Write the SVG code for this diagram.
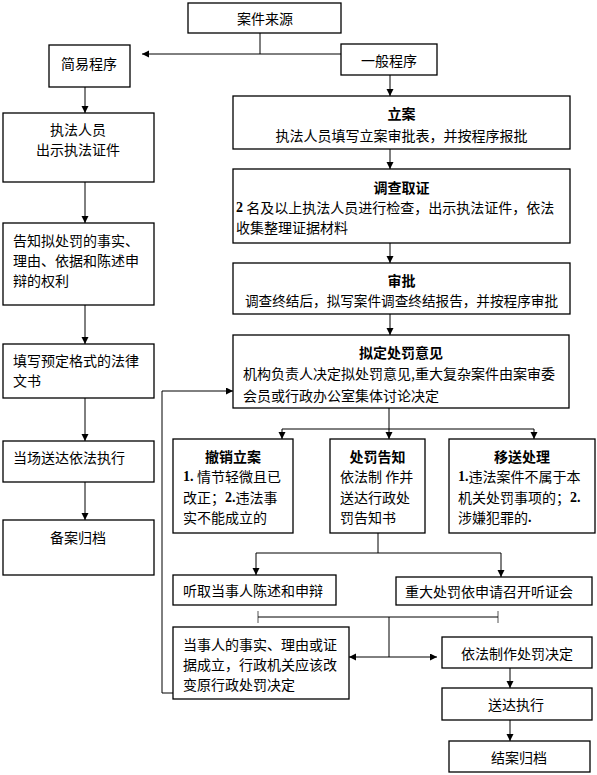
<svg xmlns="http://www.w3.org/2000/svg" width="597" height="775" viewBox="0 0 597 775">
<style>
rect{fill:#fff;stroke:#000;stroke-width:1.3}
.t{font-family:"Noto Sans CJK SC","Noto Sans",sans-serif;font-size:14px;fill:#000;dominant-baseline:central}
.c{text-anchor:middle}
.b{font-weight:bold}
.n{font-family:"Liberation Serif",serif;font-weight:bold}
#connectors path{fill:none;stroke:#000;stroke-width:1}
#connectors .tick{stroke:#555}
</style>
<defs>
<marker id="ah" markerUnits="userSpaceOnUse" markerWidth="8" markerHeight="8" refX="7" refY="3.5" orient="auto">
<path d="M0,0 L7,3.5 L0,7 z" fill="#000"/>
</marker>
</defs>
<rect x="0" y="0" width="597" height="775" style="fill:#fff;stroke:none"/>
<g id="connectors">
<path d="M260,33 V54"/>
<path d="M341,54 H142" marker-end="url(#ah)"/>
<path d="M390,75 V96" marker-end="url(#ah)"/>
<path d="M85,87 V113" marker-end="url(#ah)"/>
<path d="M85,182 V223" marker-end="url(#ah)"/>
<path d="M85,305 V344" marker-end="url(#ah)"/>
<path d="M85,398 V441" marker-end="url(#ah)"/>
<path d="M85,482 V520" marker-end="url(#ah)"/>
<path d="M390,149 V169" marker-end="url(#ah)"/>
<path d="M390,243 V263" marker-end="url(#ah)"/>
<path d="M390,314 V335" marker-end="url(#ah)"/>
<path d="M389,408 V429 M282,429 H534"/>
<path d="M282,429 V439" marker-end="url(#ah)"/>
<path d="M389,429 V439" marker-end="url(#ah)"/>
<path d="M534,429 V439" marker-end="url(#ah)"/>
<path d="M378,533 V553 M256,553 H501"/>
<path d="M256,553 V575" marker-end="url(#ah)"/>
<path d="M501,553 V577" marker-end="url(#ah)"/>
<path class="tick" d="M258,611 V623 M498,611 V623"/>
<path d="M258,617 H498 M389,617 V657"/>
<path d="M389,657 H349" marker-end="url(#ah)"/>
<path d="M389,657 H437" marker-end="url(#ah)"/>
<path d="M510,668 V688" marker-end="url(#ah)"/>
<path d="M510,720 V741" marker-end="url(#ah)"/>
<path d="M173,693 H162 V391 H233" marker-end="url(#ah)"/>
</g>
<g id="n-source"><rect x="188" y="3" width="153" height="30"/><text class="t c" x="265" y="18">案件来源</text></g>
<g id="n-simple"><rect x="49" y="45" width="81" height="42"/><text class="t c" x="89" y="63">简易程序</text></g>
<g id="n-general"><rect x="341" y="44" width="96" height="31"/><text class="t c" x="389" y="60">一般程序</text></g>
<g id="n-show"><rect x="3" y="113" width="151" height="69"/><text class="t c" x="78" y="129">执法人员</text><text class="t c" x="78" y="149">出示执法证件</text></g>
<g id="n-inform"><rect x="3" y="223" width="151" height="82"/><text class="t" x="13" y="240">告知拟处罚的事实、</text><text class="t" x="13" y="260">理由、依据和陈述申</text><text class="t" x="13" y="280">辩的权利</text></g>
<g id="n-fill"><rect x="3" y="344" width="151" height="54"/><text class="t" x="13" y="360">填写预定格式的法律</text><text class="t" x="13" y="380">文书</text></g>
<g id="n-deliver-site"><rect x="3" y="441" width="151" height="41"/><text class="t" x="13" y="457">当场送达依法执行</text></g>
<g id="n-archive-simple"><rect x="3" y="520" width="151" height="55"/><text class="t c" x="78" y="537">备案归档</text></g>
<g id="n-register"><rect x="233" y="96" width="337" height="53"/><text class="t c b" x="401.5" y="113">立案</text><text class="t c" x="401.5" y="135">执法人员填写立案审批表，并按程序报批</text></g>
<g id="n-investigate"><rect x="233" y="169" width="337" height="74"/><text class="t c b" x="401.5" y="187">调查取证</text><text class="t" x="236" y="207"><tspan class="n">2</tspan> 名及以上执法人员进行检查，出示执法证件，依法</text><text class="t" x="236" y="227">收集整理证据材料</text></g>
<g id="n-approve"><rect x="233" y="263" width="337" height="51"/><text class="t c b" x="401.5" y="280">审批</text><text class="t c" x="401.5" y="300" textLength="313" lengthAdjust="spacingAndGlyphs">调查终结后，拟写案件调查终结报告，并按程序审批</text></g>
<g id="n-opinion"><rect x="233" y="335" width="336" height="73"/><text class="t c b" x="401" y="352">拟定处罚意见</text><text class="t" x="243" y="373">机构负责人决定拟处罚意见,重大复杂案件由案审委</text><text class="t" x="243" y="395">会员或行政办公室集体讨论决定</text></g>
<g id="n-cancel"><rect x="173" y="439" width="120" height="94"/><text class="t c b" x="233" y="456">撤销立案</text><text class="t" x="183" y="476"><tspan class="n">1. </tspan>情节轻微且已</text><text class="t" x="183" y="497">改正；<tspan class="n">2.</tspan>违法事</text><text class="t" x="183" y="517">实不能成立的</text></g>
<g id="n-notice"><rect x="330" y="439" width="95" height="94"/><text class="t c b" x="377.5" y="456">处罚告知</text><text class="t" x="340" y="476">依法制 作并</text><text class="t" x="340" y="497">送达行政处</text><text class="t" x="340" y="517">罚告知书</text></g>
<g id="n-transfer"><rect x="449" y="439" width="146" height="94"/><text class="t c b" x="522" y="456">移送处理</text><text class="t" x="458" y="476"><tspan class="n">1.</tspan>违法案件不属于本</text><text class="t" x="458" y="497">机关处罚事项的；<tspan class="n">2.</tspan></text><text class="t" x="458" y="517">涉嫌犯罪的<tspan class="n">.</tspan></text></g>
<g id="n-hear"><rect x="173" y="575" width="163" height="30"/><text class="t" x="183" y="590">听取当事人陈述和申辩</text></g>
<g id="n-hearing"><rect x="396" y="577" width="196" height="28"/><text class="t" x="405" y="591">重大处罚依申请召开听证会</text></g>
<g id="n-change"><rect x="173" y="627" width="176" height="72"/><text class="t" x="183" y="644">当事人的事实、理由或证</text><text class="t" x="183" y="664">据成立，行政机关应该改</text><text class="t" x="183" y="684">变原行政处罚决定</text></g>
<g id="n-decision"><rect x="442" y="637" width="150" height="31"/><text class="t c" x="517" y="653">依法制作处罚决定</text></g>
<g id="n-execute"><rect x="442" y="688" width="150" height="32"/><text class="t c" x="516" y="704">送达执行</text></g>
<g id="n-close"><rect x="449" y="741" width="141" height="31"/><text class="t c" x="519" y="757">结案归档</text></g>
</svg>
